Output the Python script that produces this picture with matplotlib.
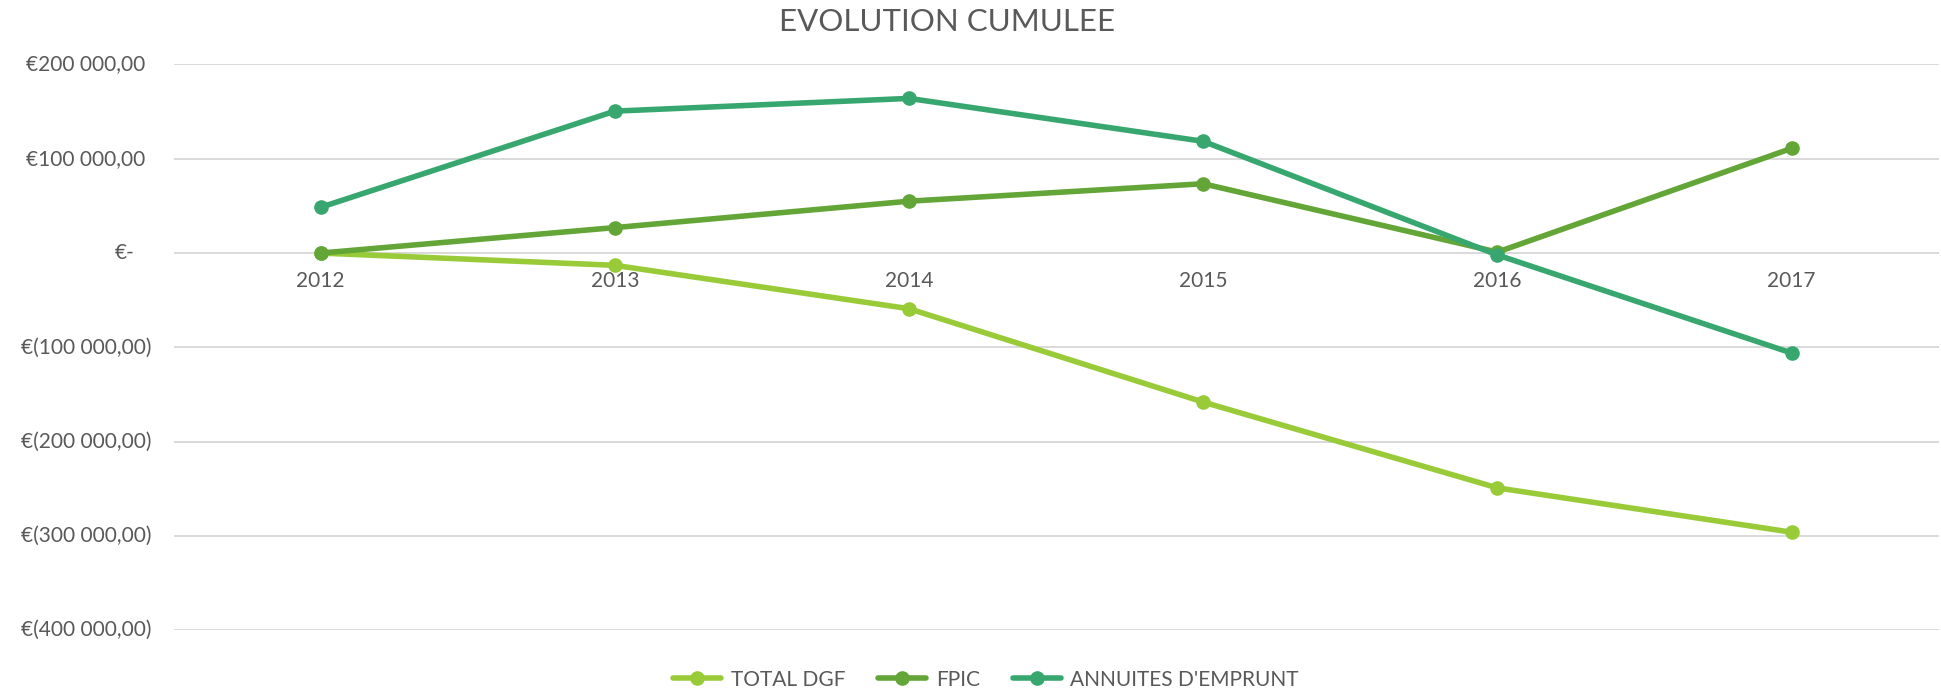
#!/usr/bin/env python3
"""EVOLUTION CUMULEE - cumulative evolution line chart."""
import matplotlib
matplotlib.use('Agg')
import matplotlib.pyplot as plt
import matplotlib.transforms as mtransforms

plt.rcParams['font.family'] = ['Lato', 'DejaVu Sans']

years = ['2012', '2013', '2014', '2015', '2016', '2017']
total_dgf = [0, -13000, -59000, -158000, -249000, -296000]
fpic = [0, 27000, 55000, 73500, 1000, 111000]
annuites = [48500, 150500, 164000, 118500, -2000, -106000]

series = [
    ('TOTAL DGF', total_dgf, '#99CB38'),
    ('FPIC', fpic, '#63A537'),
    ("ANNUITES D'EMPRUNT", annuites, '#37A76F'),
]

y_ticks = [200000, 100000, 0, -100000, -200000, -300000, -400000]
y_labels = ['€200 000,00', '€100 000,00', '€-', '€(100 000,00)',
            '€(200 000,00)', '€(300 000,00)', '€(400 000,00)']

text_color = '#595959'
grid_color = '#D9D9D9'

fig = plt.figure(figsize=(19.41, 6.93), dpi=100)
ax = fig.add_axes([0.0894, 0.0905, 0.9094, 0.8165])

x = list(range(len(years)))
for name, vals, col in series:
    ax.plot(x, vals, color=col, linewidth=4, marker='o', markersize=9.5,
            label=name, solid_capstyle='round')

ax.set_xlim(-0.5, len(years) - 0.5)
ax.set_ylim(-400000, 200000)

for yv in y_ticks:
    ax.axhline(yv, color=grid_color, linewidth=1.4, zorder=0)

for s in ax.spines.values():
    s.set_visible(False)

# category labels sit just under the zero line
ax.spines['bottom'].set_position(('data', 0))
ax.set_xticks(x)
ax.set_xticklabels(years, fontsize=15, color=text_color)
ax.tick_params(axis='x', length=0, pad=13)

# accounting-style y labels drawn by hand (Excel alignment)
ax.set_yticks([])
blend = mtransforms.blended_transform_factory(ax.transAxes, ax.transData)
for yv, lab in zip(y_ticks, y_labels):
    if lab == '€-':
        dx = -39.5
    elif lab.endswith(')'):
        dx = -22.5
    else:
        dx = -28.5
    tr = blend + mtransforms.ScaledTranslation(dx / 100, 0, fig.dpi_scale_trans)
    ax.text(0, yv, lab, transform=tr, ha='right', va='center',
            fontsize=15, color=text_color)

fig.text(0.488, 0.968, 'EVOLUTION CUMULEE', ha='center', va='center',
         fontsize=22.5, color=text_color)

fig.legend(loc='center', bbox_to_anchor=(0.508, 1 - 679.6 / 693), ncol=3,
           frameon=False, fontsize=15, labelcolor=text_color,
           handlelength=2.3, handletextpad=0.45, columnspacing=1.6)

plt.savefig('out.png', dpi=100)
plt.close()
